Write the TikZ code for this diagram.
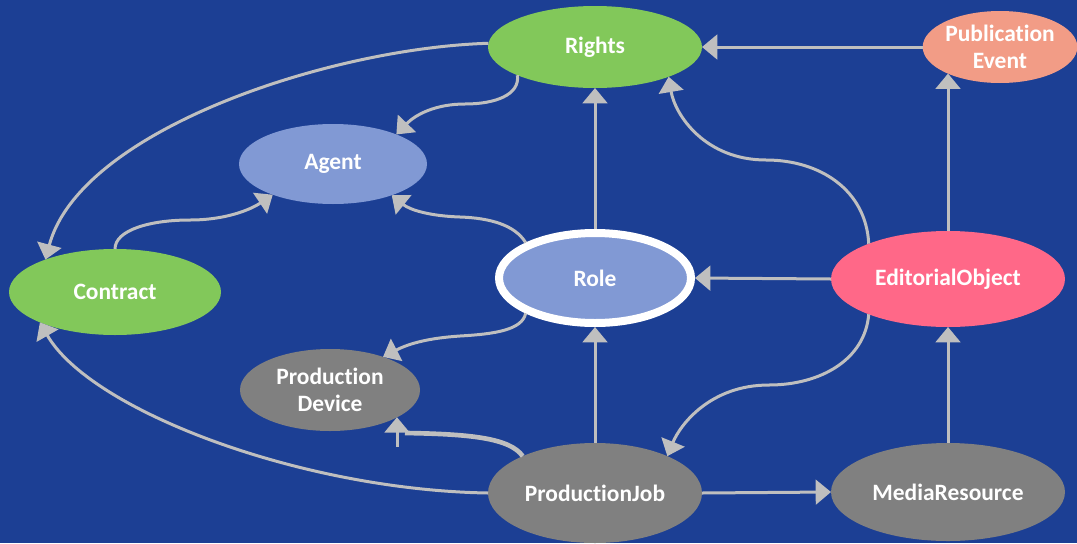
\documentclass[tikz,border=0pt]{standalone}
\usepackage{fontspec}
\setmainfont{Carlito}[Ligatures={NoCommon}]
\usetikzlibrary{arrows.meta,shapes.geometric}
\definecolor{bg}{HTML}{1C3F94}
\definecolor{cgreen}{HTML}{82C85A}
\definecolor{cblue}{HTML}{8199D4}
\definecolor{cpink}{HTML}{FF6888}
\definecolor{csalmon}{HTML}{F29C86}
\definecolor{cgray}{HTML}{808080}
\definecolor{lgray}{HTML}{BFBFBF}
\begin{document}
\begin{tikzpicture}[x=0.75pt,y=-0.75pt,
  ent/.style={ellipse, inner sep=0pt, outer sep=0pt, text=white,
    font=\fontsize{17.6}{20.5}\selectfont\bfseries, align=center},
  conn/.style={draw=lgray, line width=2.25pt},
  arr/.style={conn, -{Triangle[length=11.5pt,width=18.5pt]}},
]
\fill[bg] (0,0) rectangle (1077,543);
\useasboundingbox (0,0) rectangle (1077,543);

% nodes
\node[ent, fill=cgreen, minimum width=214*0.75pt, minimum height=82*0.75pt] (rights) at (595,47) {Rights};
\node[ent, fill=csalmon, minimum width=154*0.75pt, minimum height=72*0.75pt] (pe) at (1000,47) {Publication\\Event};
\node[ent, fill=cblue, minimum width=188*0.75pt, minimum height=80*0.75pt] (agent) at (333,164) {Agent};
\node[ent, fill=cgreen, minimum width=212*0.75pt, minimum height=86*0.75pt] (contract) at (115,292) {Contract};
\node[ent, fill=cblue, draw=white, line width=6pt, outer sep=3pt, minimum width=192*0.75pt, minimum height=90*0.75pt] (role) at (595,278) {Role};
\node[ent, fill=cpink, minimum width=234*0.75pt, minimum height=96*0.75pt] (eo) at (948,279) {EditorialObject};
\node[ent, fill=cgray, minimum width=180*0.75pt, minimum height=82*0.75pt] (pd) at (330,390) {Production\\Device};
\node[ent, fill=cgray, minimum width=214*0.75pt, minimum height=100*0.75pt] (pj) at (595,493) {ProductionJob};
\node[ent, fill=cgray, minimum width=234*0.75pt, minimum height=98*0.75pt] (mr) at (948,492) {MediaResource};

\coordinate (pdj) at (405,433);
\coordinate (pdstub) at (397,447);

% connectors
\draw[arr] (pe.west) -- (rights.east);
\draw[arr] (role.north) -- (rights.south);
\draw[arr] (eo.north) -- (eo.north |- pe.-153);
\draw[arr] (eo.west) -- (role.east);
\draw[arr] (mr.north) -- (eo.south);
\draw[arr] (pj.north) -- (role.south);
\draw[arr] (pj.east) -- (mr.west);

\draw[arr] (eo.156) .. controls (866,190) and (820,160) .. (766,160)
  .. controls (705,160) and (675,115) .. (rights.-22);
\draw[arr] (eo.204) .. controls (865,360) and (820,385) .. (769,385)
  .. controls (710,385) and (680,425) .. (pj.27);
\draw[arr] (role.207) .. controls (522,330) and (495,334) .. (460,336)
  .. controls (430,338) and (410,343) .. (pd.32);
\draw[arr] (role.153) .. controls (515,225) and (490,218) .. (460,217)
  .. controls (430,216) and (410,210) .. (agent.-28);
\draw[arr] (rights.-160) .. controls (520,95) and (495,104) .. (465,104)
  .. controls (435,104) and (415,115) .. (agent.25);
\draw[arr] (contract.north) .. controls (115,230) and (150,220) .. (190,220)
  .. controls (225,220) and (250,210) .. (agent.-153);
\draw[arr] (rights.178) .. controls (330,48) and (80,130) .. (contract.155);
\draw[arr] (pj.west) .. controls (300,490) and (90,410) .. (contract.202.5);

\draw[conn, line width=3.5pt] (pj.153) .. controls (510,438) and (470,434) .. (pdj);
\draw[arr] (pdstub) -- (pdstub |- pd.-22);
\end{tikzpicture}
\end{document}
